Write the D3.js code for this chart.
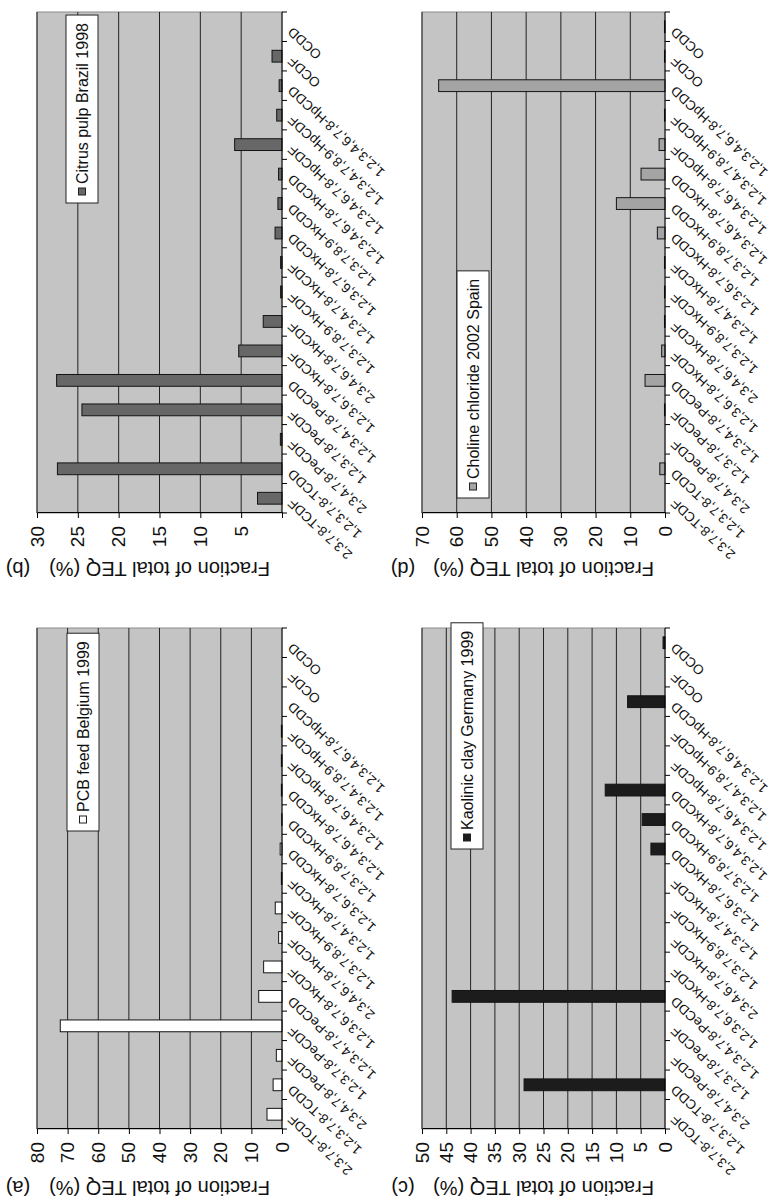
<!DOCTYPE html>
<html>
<head>
<meta charset="utf-8">
<script src="https://cdn.jsdelivr.net/npm/d3@7"></script>
<style>
  body { margin: 0; background: #fff; }
  text { font-family: "Liberation Sans", Arial, sans-serif; fill: #111; }
</style>
</head>
<body>
<div id="chart"></div>
<script>
// Congeners, listed along the category axis (first = next to the value axis)
const congeners = [
  "2,3,7,8-TCDF", "1,2,3,7,8-TCDD", "2,3,4,7,8-PeCDF", "1,2,3,7,8-PeCDF",
  "1,2,3,4,7,8-PeCDD", "1,2,3,6,7,8-HxCDF", "2,3,4,6,7,8-HxCDF", "1,2,3,7,8,9-HxCDF",
  "1,2,3,4,7,8-HxCDF", "1,2,3,6,7,8-HxCDD", "1,2,3,7,8,9-HxCDD", "1,2,3,4,6,7,8-HxCDD",
  "1,2,3,4,6,7,8-HpCDF", "1,2,3,4,7,8,9-HpCDF", "1,2,3,4,6,7,8-HpCDD", "OCDF", "OCDD"
];

// Fraction of total TEQ (%) per congener, one array per sample
const pcbFeed        = [4.9, 2.9, 1.85, 72.4, 7.6, 6.0, 1.1, 2.2, 0.2, 0.6, 0.1, 0.2, 0.2, 0.2, 0, 0, 0];
const citrusPulp     = [3.0, 27.5, 0.2, 24.5, 27.6, 5.3, 2.3, 0.17, 0.17, 0.85, 0.5, 0.42, 5.8, 0.65, 0.35, 1.22, 0];
const kaolinicClay   = [0, 29.0, 0, 0, 43.8, 0, 0, 0, 0, 2.9, 4.7, 12.3, 0, 0, 7.7, 0, 0.4];
const cholineChloride = [0, 1.5, 0, 0.15, 5.75, 0.96, 0.15, 0.15, 0.15, 2.2, 14.0, 6.9, 1.7, 0.15, 65.2, 0.15, 0.15];

// Value axis ticks
const ticksA = [0, 10, 20, 30, 40, 50, 60, 70, 80];
const ticksB = [0, 5, 10, 15, 20, 25, 30];
const ticksC = [0, 5, 10, 15, 20, 25, 30, 35, 40, 45, 50];
const ticksD = [0, 10, 20, 30, 40, 50, 60, 70];

const legendNames = ["PCB feed Belgium 1999", "Citrus pulp Brazil 1998",
                     "Kaolinic clay Germany 1999", "Choline chloride 2002 Spain"];
const panelLetters = ["(a)", "(b)", "(c)", "(d)"];
const yTitle = "Fraction of total TEQ (%)";

// The figure is drawn upright (1201 x 773) and turned a quarter turn to the left
const W = 1201, H = 773;

const svg = d3.select("#chart")
  .append("svg")
    .attr("width", H)
    .attr("height", W);

const fig = svg.append("g")
  .attr("transform", `translate(0,${W}) rotate(-90)`);

// Panel layout in the upright figure
const panels = [
  { values: pcbFeed, ticks: ticksA, fill: "#ffffff", hideZero: false,
    x0: 72, x1: 573, y0: 37, y1: 282, titleX: 13, legendX: 370, legendY: 30 },
  { values: citrusPulp, ticks: ticksB, fill: "#676767", hideZero: true,
    x0: 688, x1: 1189, y0: 37, y1: 282, titleX: 632, legendX: 998, legendY: 29 },
  { values: kaolinicClay, ticks: ticksC, fill: "#1c1c1c", hideZero: false,
    x0: 72, x1: 573, y0: 422, y1: 665, titleX: 13, legendX: 352, legendY: 29 },
  { values: cholineChloride, ticks: ticksD, fill: "#a4a4a4", hideZero: false,
    x0: 688, x1: 1189, y0: 422, y1: 665, titleX: 632, legendX: 703, legendY: 35 }
];

panels.forEach((p, k) => {
  const g = fig.append("g");

  const x = d3.scaleBand()
    .domain(congeners)
    .range([p.x0, p.x1])
    .paddingInner(0.6)
    .paddingOuter(0.3);

  const y = d3.scaleLinear()
    .domain([0, d3.max(p.ticks)])
    .range([p.y1, p.y0]);

  // plot area
  g.append("rect")
    .attr("x", p.x0).attr("y", p.y0)
    .attr("width", p.x1 - p.x0).attr("height", p.y1 - p.y0)
    .attr("fill", "#c4c4c4")
    .attr("stroke", "#8c8c8c");

  // gridlines
  g.selectAll(".grid")
    .data(p.ticks.filter(t => t > 0))
    .join("line")
      .attr("x1", p.x0).attr("x2", p.x1)
      .attr("y1", d => y(d)).attr("y2", d => y(d))
      .attr("stroke", "#222")
      .attr("stroke-width", 1);

  // bars
  g.selectAll(".bar")
    .data(congeners.map((c, i) => ({ c: c, v: p.values[i] })))
    .join("rect")
      .attr("x", d => x(d.c))
      .attr("width", x.bandwidth())
      .attr("y", d => y(d.v))
      .attr("height", d => y(0) - y(d.v))
      .attr("fill", p.fill)
      .attr("stroke", "#141414")
      .attr("stroke-width", 1);

  // value axis
  const ax = g.append("g")
    .attr("transform", `translate(${p.x0},0)`)
    .call(d3.axisLeft(y)
      .tickValues(p.ticks)
      .tickSize(5)
      .tickSizeOuter(0)
      .tickPadding(8)
      .tickFormat(t => (p.hideZero && t === 0) ? "" : t));
  ax.selectAll("path, line").attr("stroke", "#000");
  ax.selectAll("text")
    .style("font-size", "19px")
    .style("font-family", "'Liberation Sans', Arial, sans-serif")
    .attr("fill", "#111");

  // category axis
  g.append("line")
    .attr("x1", p.x0).attr("x2", p.x1)
    .attr("y1", p.y1).attr("y2", p.y1)
    .attr("stroke", "#000");

  g.selectAll(".ctick")
    .data(d3.range(congeners.length + 1))
    .join("line")
      .attr("x1", i => p.x0 + i * x.step())
      .attr("x2", i => p.x0 + i * x.step())
      .attr("y1", p.y1).attr("y2", p.y1 + 5)
      .attr("stroke", "#000");

  g.selectAll(".clabel")
    .data(congeners)
    .join("text")
      .attr("transform", d => `translate(${x(d) + x.bandwidth() / 2 - 3},${p.y1 + 8}) rotate(-47)`)
      .attr("text-anchor", "end")
      .attr("dy", "0.35em")
      .style("font-size", "13.5px")
      .text(d => d);

  // axis title and panel letter
  g.append("text")
    .attr("transform", `translate(${p.titleX},${(p.y0 + p.y1) / 2}) rotate(-90)`)
    .attr("text-anchor", "middle")
    .attr("dy", "0.35em")
    .style("font-size", "20px")
    .text(yTitle);

  g.append("text")
    .attr("transform", `translate(${p.titleX},${p.y0 - 19}) rotate(-90)`)
    .attr("text-anchor", "middle")
    .attr("dy", "0.35em")
    .style("font-size", "20px")
    .text(panelLetters[k]);

  // legend
  const lg = g.append("g")
    .attr("transform", `translate(${p.legendX},${p.y0 + p.legendY})`);
  const box = lg.append("rect")
    .attr("height", 32)
    .attr("fill", "#fff")
    .attr("stroke", "#222");
  lg.append("rect")
    .attr("x", 8).attr("y", 12.5)
    .attr("width", 7).attr("height", 7)
    .attr("fill", p.fill)
    .attr("stroke", "#222");
  const lt = lg.append("text")
    .attr("x", 19).attr("y", 16)
    .attr("dy", "0.35em")
    .style("font-size", "16px")
    .text(legendNames[k]);
  box.attr("width", lt.node().getComputedTextLength() + 27);
});
</script>
</body>
</html>
